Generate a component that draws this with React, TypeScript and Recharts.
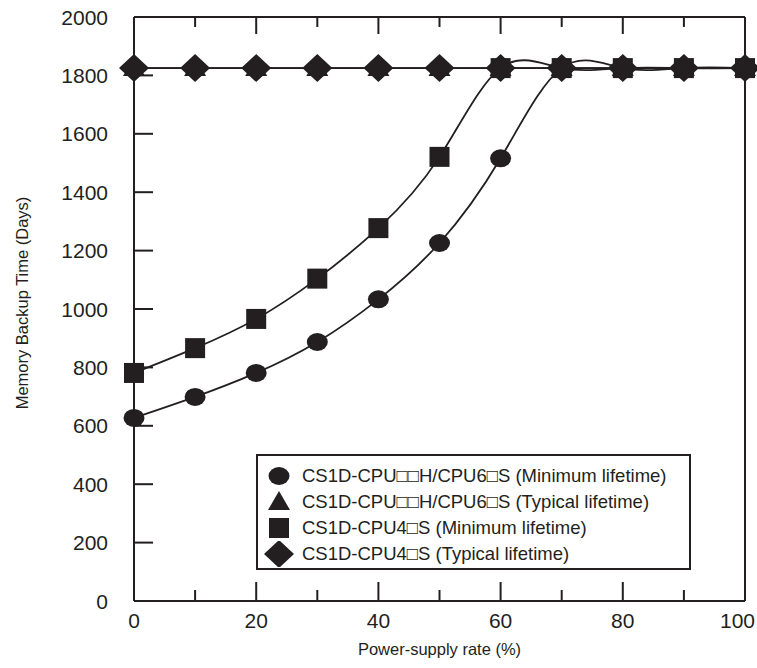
import { LineChart, Line, XAxis, YAxis, Legend } from "recharts";

const rates = [0, 10, 20, 30, 40, 50, 60, 70, 80, 90, 100];
const cpuHMin = [627, 699, 781, 887, 1033, 1226, 1516, 1825, 1825, 1825, 1825];
const cpuHTyp = [1825, 1825, 1825, 1825, 1825, 1825, 1825, 1825, 1825, 1825, 1825];
const cpu4Min = [781, 866, 966, 1104, 1277, 1521, 1825, 1825, 1825, 1825, 1825];
const cpu4Typ = [1825, 1825, 1825, 1825, 1825, 1825, 1825, 1825, 1825, 1825, 1825];

const xTicks = [0, 10, 20, 30, 40, 50, 60, 70, 80, 90, 100];
const yTicks = [0, 200, 400, 600, 800, 1000, 1200, 1400, 1600, 1800, 2000];

const seriesKeys = ["cpuHMin", "cpuHTyp", "cpu4Min", "cpu4Typ"];
const legendLabels = [
  "CS1D-CPU□□H/CPU6□S (Minimum lifetime)",
  "CS1D-CPU□□H/CPU6□S (Typical lifetime)",
  "CS1D-CPU4□S (Minimum lifetime)",
  "CS1D-CPU4□S (Typical lifetime)",
];

const data = rates.map((r, i) => ({
  rate: r,
  cpuHMin: cpuHMin[i],
  cpuHTyp: cpuHTyp[i],
  cpu4Min: cpu4Min[i],
  cpu4Typ: cpu4Typ[i],
}));

const INK = "#231f20";
const FONT = "'Liberation Sans', Arial, Helvetica, sans-serif";

// marker shapes
function Marker({ kind, cx, cy }: { kind: string; cx: number; cy: number }) {
  if (kind === "cpuHMin") return <ellipse cx={cx} cy={cy} rx={10.5} ry={9} fill={INK} />;
  if (kind === "cpu4Min") return <rect x={cx - 10} y={cy - 10} width={20} height={20} fill={INK} />;
  if (kind === "cpu4Typ")
    return <polygon points={`${cx},${cy - 14} ${cx + 15},${cy} ${cx},${cy + 14} ${cx - 15},${cy}`} fill={INK} />;
  return <polygon points={`${cx},${cy - 11} ${cx + 11},${cy + 8} ${cx - 11},${cy + 8}`} fill={INK} />;
}

const dotFor = (kind: string) => (p: any) =>
  p.cx == null ? <g key={p.key} /> : <Marker key={p.key} kind={kind} cx={p.cx} cy={p.cy} />;

function LeftTick({ x, y, payload }: any) {
  const ax = x + 26;
  return (
    <g>
      <line x1={ax} x2={ax + 19} y1={y} y2={y} stroke={INK} strokeWidth={2} />
      <text x={x} y={y} dy="0.36em" textAnchor="end" fontSize={21} fontFamily={FONT} fill={INK}>
        {payload.value}
      </text>
    </g>
  );
}

function RightTick({ x, y }: any) {
  return <line x1={x} x2={x - 17} y1={y} y2={y} stroke={INK} strokeWidth={2} />;
}

function BottomTick({ x, y, payload }: any) {
  const ay = y - 12;
  const major = payload.value % 20 === 0;
  const last = payload.value === 100;
  return (
    <g>
      <line x1={x} x2={x} y1={ay} y2={ay - (major ? 19 : 11)} stroke={INK} strokeWidth={2} />
      {major && (
        <text
          x={last ? x + 10 : x}
          y={y}
          dy="0.71em"
          textAnchor={last ? "end" : "middle"}
          fontSize={21}
          fontFamily={FONT}
          fill={INK}
        >
          {payload.value}
        </text>
      )}
    </g>
  );
}

function TopTick({ x, y, payload }: any) {
  const major = payload.value % 20 === 0;
  return <line x1={x} x2={x} y1={y} y2={y + (major ? 17 : 10)} stroke={INK} strokeWidth={2} />;
}

function YTitle({ viewBox }: any) {
  const cy = viewBox.y + viewBox.height / 2 - 6;
  return (
    <text
      x={22}
      y={cy}
      dy="0.36em"
      transform={`rotate(-90, 22, ${cy})`}
      textAnchor="middle"
      fontSize={16.5}
      fontFamily={FONT}
      fill={INK}
    >
      Memory Backup Time (Days)
    </text>
  );
}

function LegendBox() {
  return (
    <div
      style={{
        width: 435,
        height: 116,
        boxSizing: "border-box",
        border: `2px solid ${INK}`,
        background: "#fff",
        paddingTop: 7,
        fontFamily: FONT,
        fontSize: 18.5,
        color: INK,
      }}
    >
      {seriesKeys.map((k, i) => (
        <div key={k} style={{ height: 26, display: "flex", alignItems: "center" }}>
          <svg width={44} height={26}>
            <Marker kind={k} cx={21} cy={13} />
          </svg>
          <span style={{ whiteSpace: "nowrap" }}>{legendLabels[i]}</span>
        </div>
      ))}
    </div>
  );
}

export default function App() {
  return (
    <div style={{ position: "absolute", left: 0, top: 0, width: 757, height: 668, background: "#fff" }}>
      <LineChart width={757} height={668} data={data} margin={{ top: 16, right: 11, bottom: 0, left: 0 }}>
        <XAxis
          dataKey="rate"
          type="number"
          domain={[0, 100]}
          ticks={xTicks}
          interval={0}
          height={67}
          tickSize={0}
          tickMargin={12}
          tickLine={false}
          axisLine={{ stroke: INK, strokeWidth: 2 }}
          tick={<BottomTick />}
          label={{ value: "Power-supply rate (%)", position: "insideBottom", offset: 13, fontSize: 16.5, fontFamily: FONT, fill: INK }}
        />
        <XAxis
          xAxisId="top"
          dataKey="rate"
          type="number"
          orientation="top"
          domain={[0, 100]}
          ticks={xTicks}
          interval={0}
          height={1}
          tickSize={0}
          tickMargin={0}
          tickLine={false}
          axisLine={{ stroke: INK, strokeWidth: 2 }}
          tick={<TopTick />}
        />
        <YAxis
          type="number"
          domain={[0, 2000]}
          ticks={yTicks}
          interval={0}
          width={134}
          tickSize={0}
          tickMargin={26}
          tickLine={false}
          axisLine={{ stroke: INK, strokeWidth: 2 }}
          tick={<LeftTick />}
          label={{ content: (p: any) => <YTitle {...p} /> }}
        />
        <YAxis
          yAxisId="right"
          orientation="right"
          type="number"
          domain={[0, 2000]}
          ticks={yTicks}
          interval={0}
          width={1}
          tickSize={0}
          tickMargin={0}
          tickLine={false}
          axisLine={{ stroke: INK, strokeWidth: 2 }}
          tick={<RightTick />}
        />
        <Legend
          layout="horizontal"
          verticalAlign="middle"
          align="center"
          wrapperStyle={{ left: 256, top: 454, width: 435, height: 116 }}
          content={() => <LegendBox />}
        />
        {["cpuHTyp", "cpu4Typ", "cpuHMin", "cpu4Min"].map((k) => (
          <Line
            key={k}
            dataKey={k}
            name={legendLabels[seriesKeys.indexOf(k)]}
            type={k.endsWith("Min") ? "natural" : "linear"}
            stroke={INK}
            strokeWidth={1.8}
            dot={dotFor(k)}
            activeDot={false}
            isAnimationActive={false}
          />
        ))}
      </LineChart>
    </div>
  );
}
